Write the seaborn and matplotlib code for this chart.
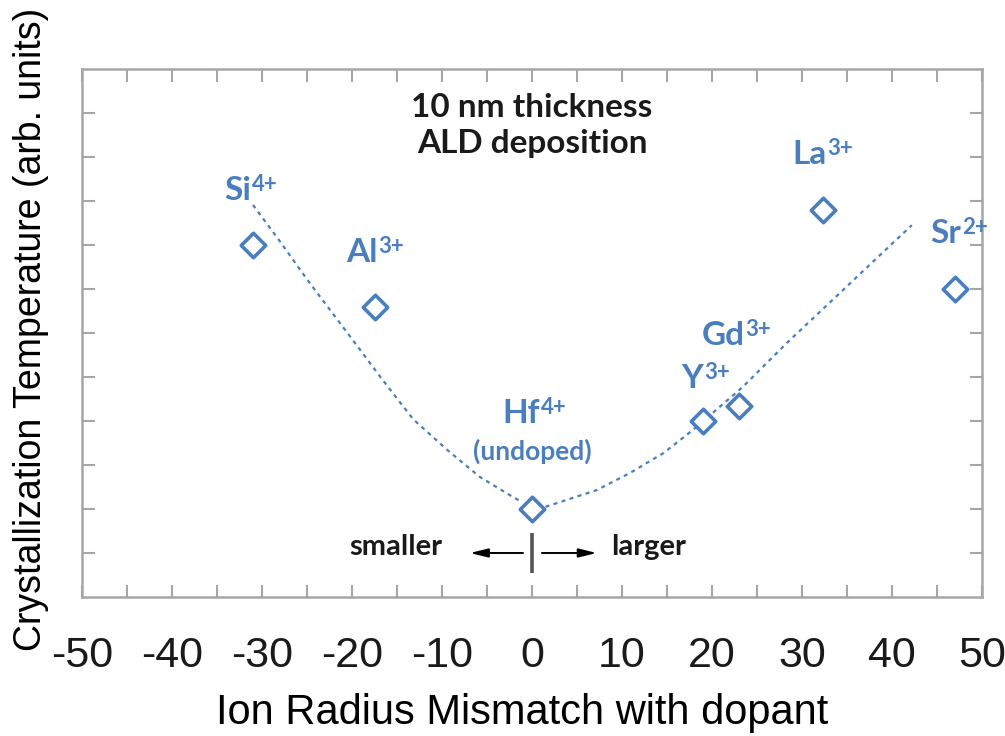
import matplotlib
matplotlib.use("Agg")
import matplotlib.pyplot as plt
from matplotlib import font_manager
import seaborn as sns
import pandas as pd

# Dopant ions, their radius mismatch vs. Hf4+ and crystallization temperature
ions = ["Si", "Al", "Hf", "Y", "Gd", "La", "Sr"]
charges = ["4+", "3+", "4+", "3+", "3+", "3+", "2+"]
mismatch = [-31.0, -17.5, 0.0, 19.0, 23.0, 32.3, 47.0]
cryst_temp = [8.0, 6.6, 2.0, 4.0, 4.35, 8.8, 7.0]

# Hand-drawn guide curve (two branches meeting near the undoped point)
guide_left_x = [-31.0, -28.0, -25.0, -19.4, -16.7, -13.2, -9.4, -5.8, -2.1, -1.1]
guide_left_y = [8.91, 8.08, 7.22, 5.70, 4.96, 4.04, 3.34, 2.73, 2.27, 2.16]
guide_right_x = [1.5, 7.2, 10.9, 14.6, 17.9, 23.4, 28.3, 33.9, 38.3, 42.2]
guide_right_y = [2.05, 2.43, 2.82, 3.27, 3.80, 4.77, 5.77, 6.85, 7.70, 8.45]

x_ticks = [-50, -40, -30, -20, -10, 0, 10, 20, 30, 40, 50]

sns.set_theme(style="ticks")

available = {f.name for f in font_manager.fontManager.ttflist}
narrow = "Liberation Sans Narrow" if "Liberation Sans Narrow" in available else "Liberation Sans"
label_font = "Lato" if "Lato" in available else "DejaVu Sans"

plt.rcParams["font.family"] = [label_font, "DejaVu Sans"]
plt.rcParams["axes.unicode_minus"] = False

BLUE = "#4a7ebf"
GREY = "#a6a6a6"
INK = "#1a1a1a"

fig = plt.figure(figsize=(10.05, 7.36), dpi=100)
ax = fig.add_axes([82 / 1005, 1 - 597 / 736, 900 / 1005, 528 / 736])

points = pd.DataFrame({"mismatch": mismatch, "temp": cryst_temp})
left = pd.DataFrame({"x": guide_left_x, "y": guide_left_y})
right = pd.DataFrame({"x": guide_right_x, "y": guide_right_y})

for branch in (left, right):
    sns.lineplot(data=branch, x="x", y="y", ax=ax, sort=False, color=BLUE,
                 lw=1.6, linestyle=(0, (1.8, 2.0)), zorder=2)

sns.scatterplot(data=points, x="mismatch", y="temp", ax=ax, marker="D", s=155,
                facecolor="white", edgecolor=BLUE, linewidth=2.6, zorder=3)

# Ion labels: element symbol centred at the given baseline position,
# charge set as a superscript hanging off the symbol's top-right corner
symbol_xy = [(-32.7, 9.02), (-18.9, 7.61), (-1.2, 3.95), (17.8, 4.75),
             (21.2, 5.73), (30.8, 9.84), (46.0, 8.05)]
for ion, q, (lx, ly) in zip(ions, charges, symbol_xy):
    sym = ax.text(lx, ly, ion, color=BLUE, fontsize=24, fontweight="bold",
                  ha="center", va="baseline", zorder=4)
    ax.annotate(q, xy=(1.0, 1.0), xycoords=sym, xytext=(0.5, 1.5),
                textcoords="offset points", color=BLUE, fontsize=16,
                fontweight="bold", ha="left", va="top", zorder=4)
ax.text(0.0, 3.11, "(undoped)", color=BLUE, fontsize=19, fontweight="bold",
        ha="center", va="baseline")

ax.text(0.0, 10.9, "10 nm thickness", color=INK, fontsize=24,
        fontweight="bold", ha="center", va="baseline")
ax.text(0.0, 10.09, "ALD deposition", color=INK, fontsize=24,
        fontweight="bold", ha="center", va="baseline")

# smaller / larger indicator
ax.plot([0, 0], [0.55, 1.45], color="#555555", lw=2.6, solid_capstyle="butt")
arrow = dict(arrowstyle="-|>,head_length=0.9,head_width=0.22", color="black",
             lw=1.4, shrinkA=0, shrinkB=0)
ax.annotate("", xy=(-6.9, 1.0), xytext=(-1.0, 1.0), arrowprops=arrow)
ax.annotate("", xy=(7.2, 1.0), xytext=(1.1, 1.0), arrowprops=arrow)
ax.text(-15.1, 0.95, "smaller", color=INK, fontsize=21,
        fontweight="bold", ha="center", va="baseline")
ax.text(12.9, 0.95, "larger", color=INK, fontsize=21,
        fontweight="bold", ha="center", va="baseline")

ax.set_xlim(-50, 50)
ax.set_ylim(0, 12)
ax.set_xticks(x_ticks)
ax.set_xticks([t + 5 for t in x_ticks[:-1]], minor=True)
ax.set_yticks(range(1, 12))
ax.set_yticklabels([])
ax.set_xticklabels([str(t) for t in x_ticks], fontfamily=narrow, fontsize=31,
                   color=INK)

for side in ("left", "right", "top", "bottom"):
    ax.spines[side].set_visible(True)
    ax.spines[side].set_color(GREY)
    ax.spines[side].set_linewidth(1.8)

ax.tick_params(axis="both", which="both", direction="in", length=9,
               width=1.5, color=GREY, top=True, right=True)
ax.tick_params(axis="x", which="major", pad=28)

ax.set_xlabel("")
ax.set_ylabel("")
fig.text(522 / 1005, 1 - 713 / 736, "Ion Radius Mismatch with dopant",
         fontfamily=narrow, fontsize=30, color="black", ha="center", va="center")
fig.text(31 / 1005, 1 - 329 / 736, "Crystallization Temperature (arb. units)",
         fontfamily="Liberation Sans", fontsize=27, color="black",
         rotation=90, ha="center", va="center")

fig.savefig("out.png", dpi=100)
